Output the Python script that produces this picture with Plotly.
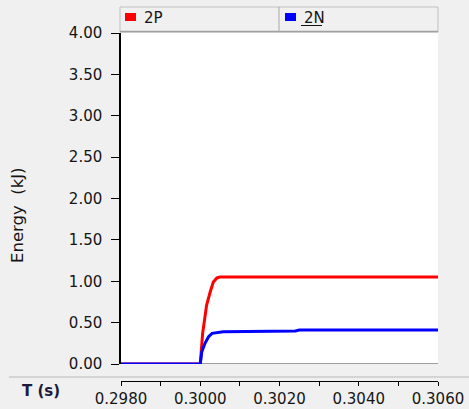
import plotly.graph_objects as go

# ---- data ----
series_names = ["2P", "2N"]
series_colors = ["#ff0000", "#0000ff"]

time_2P = [0.2980, 0.3000, 0.30006, 0.30012, 0.30016, 0.30025, 0.30033, 0.30042, 0.30050, 0.3060]
energy_2P = [0.0, 0.0, 0.37, 0.57, 0.71, 0.87, 0.99, 1.04, 1.05, 1.05]

time_2N = [0.2980, 0.3000, 0.30004, 0.30012, 0.30021, 0.30030, 0.30058, 0.30240, 0.30250, 0.3060]
energy_2N = [0.0, 0.0, 0.15, 0.25, 0.33, 0.37, 0.39, 0.40, 0.41, 0.41]

y_ticks = [0.0, 0.5, 1.0, 1.5, 2.0, 2.5, 3.0, 3.5, 4.0]
x_ticks = [0.2980, 0.3000, 0.3020, 0.3040, 0.3060]
x_tick_labels = ["0.2980", "0.3000", "0.3020", "0.3040", "0.3060"]

y_title = "Energy  (kJ)"
x_title = "T (s)"

# ---- layout geometry (pixels) ----
W, H = 469, 409
L, R, T, B = 121, 31, 33, 28
PLOT_BOTTOM = 364
FONT = "DejaVu Sans"
TXT = "#151515"


def px(X):
    return (X - L) / (W - L - R)


def py(Y):
    return (H - B - Y) / (H - T - B)


fig = go.Figure()
for name, color, xs, ys in [
    (series_names[0], series_colors[0], time_2P, energy_2P),
    (series_names[1], series_colors[1], time_2N, energy_2N),
]:
    fig.add_trace(go.Scatter(x=xs, y=ys, mode="lines", name=name,
                             line=dict(color=color, width=3), showlegend=False))

shapes = []
# baseline gray line of the plot
shapes.append(dict(type="line", xref="paper", yref="y", x0=0, x1=1, y0=0, y1=0,
                   line=dict(color="#a0a0a0", width=2), layer="below"))
# separator line above the time axis
shapes.append(dict(type="line", xref="paper", yref="paper", x0=px(9), x1=px(469),
                   y0=py(377), y1=py(377), line=dict(color="#b8b8b8", width=1)))
# legend header
shapes.append(dict(type="rect", xref="paper", yref="paper", x0=px(120), x1=px(438),
                   y0=py(32), y1=py(7), line=dict(color="#c0c0c0", width=1),
                   fillcolor="#f0f0f0"))
shapes.append(dict(type="line", xref="paper", yref="paper", x0=px(120), x1=px(438),
                   y0=py(31.5), y1=py(31.5), line=dict(color="#a0a0a0", width=1.5)))
shapes.append(dict(type="line", xref="paper", yref="paper", x0=px(279), x1=px(279),
                   y0=py(32), y1=py(7), line=dict(color="#a8a8a8", width=1)))

annotations = []
legend_x = [125, 285]
for i, (name, color) in enumerate(zip(series_names, series_colors)):
    x0 = legend_x[i]
    shapes.append(dict(type="rect", xref="paper", yref="paper", x0=px(x0), x1=px(x0 + 11),
                       y0=py(21), y1=py(13), line=dict(width=0), fillcolor=color))
    annotations.append(dict(xref="paper", yref="paper", x=px(x0 + 17), y=py(17.5),
                            xanchor="left", yanchor="middle", showarrow=False,
                            text=name, font=dict(family=FONT, size=15, color=TXT)))
# underline on second legend label
shapes.append(dict(type="line", xref="paper", yref="paper", x0=px(301), x1=px(322),
                   y0=py(25.5), y1=py(25.5), line=dict(color=TXT, width=1)))

annotations.append(dict(xref="paper", yref="paper", x=px(17), y=py(215),
                        xanchor="center", yanchor="middle", showarrow=False,
                        textangle=-90, text=y_title,
                        font=dict(family=FONT, size=16.5, color=TXT)))
annotations.append(dict(xref="paper", yref="paper", x=px(41), y=py(391),
                        xanchor="center", yanchor="middle", showarrow=False,
                        text=x_title,
                        font=dict(family=FONT, size=15, color="#1a1a3a", weight="bold")))

fig.update_layout(
    width=W, height=H,
    margin=dict(l=L, r=R, t=T, b=B, pad=0, autoexpand=False),
    paper_bgcolor="#f0f0f0",
    plot_bgcolor="#ffffff",
    font=dict(family=FONT, size=15, color=TXT),
    shapes=shapes,
    annotations=annotations,
    xaxis=dict(
        domain=[0, 1], anchor="free", position=0,
        range=[0.2980, 0.3060],
        tickvals=x_ticks, ticktext=x_tick_labels,
        ticks="outside", ticklen=4, tickcolor="#000000", tickwidth=1,
        minor=dict(dtick=0.001, ticks="outside", ticklen=4, tickcolor="#000000", tickwidth=1),
        showline=True, linecolor="#000000", linewidth=1,
        showgrid=False, zeroline=False, automargin=False,
        tickfont=dict(family=FONT, size=15, color=TXT),
        fixedrange=True,
    ),
    yaxis=dict(
        domain=[py(PLOT_BOTTOM), 1],
        range=[0, 4],
        tickvals=y_ticks, tickformat=".2f",
        ticks="outside", ticklen=8, tickcolor="#000000", tickwidth=1,
        showline=True, linecolor="#000000", linewidth=1.5,
        showgrid=False, zeroline=False, automargin=False,
        ticklabelstandoff=6,
        tickfont=dict(family=FONT, size=15, color=TXT),
        fixedrange=True,
    ),
)

fig.write_html(
    "out.html",
    config={"displayModeBar": False},
    post_script="document.body.style.margin='0px';document.body.style.background='#f0f0f0';",
)
